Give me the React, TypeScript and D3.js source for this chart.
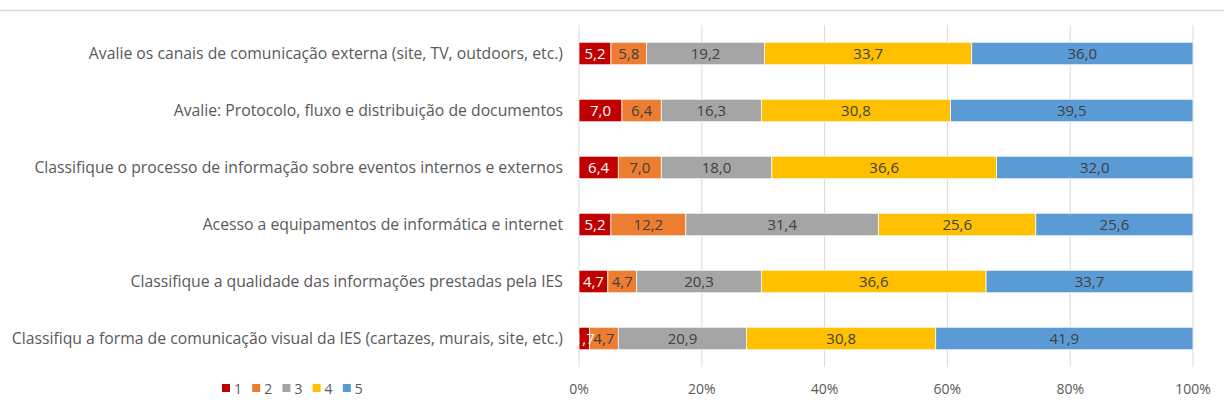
import React from "react";
import * as d3 from "d3";

const categories = [
  "Avalie os canais de comunicação externa (site, TV, outdoors, etc.)",
  "Avalie: Protocolo, fluxo e distribuição de documentos",
  "Classifique o processo de informação sobre eventos internos e externos",
  "Acesso a equipamentos de informática e internet",
  "Classifique a qualidade das informações prestadas pela IES",
  "Classifiqu a forma de comunicação visual da IES (cartazes, murais, site, etc.)",
];
const seriesNames = ["1", "2", "3", "4", "5"];
const s1 = [5.2, 7.0, 6.4, 5.2, 4.7, 1.7];
const s2 = [5.8, 6.4, 7.0, 12.2, 4.7, 4.7];
const s3 = [19.2, 16.3, 18.0, 31.4, 20.3, 20.9];
const s4 = [33.7, 30.8, 36.6, 25.6, 36.6, 30.8];
const s5 = [36.0, 39.5, 32.0, 25.6, 33.7, 41.9];
const colors = ["#C00000", "#ED7D31", "#A5A5A5", "#FFC000", "#5B9BD5"];
const ticks = [0, 0.2, 0.4, 0.6, 0.8, 1.0];

const FONT = "'Open Sans', sans-serif";

export default function App() {
  const W = 1224, H = 419;
  const x0 = 579, x1 = 1193, yTop = 25, yBot = 367;
  const series = [s1, s2, s3, s4, s5];
  const x = d3.scaleLinear().domain([0, 1]).range([x0, x1]);
  const y = d3.scaleBand<string>().domain(categories).range([yTop, yBot]).paddingInner(0.605).paddingOuter(0.3025);
  const rows = categories.map((c, i) => {
    const vals = series.map((s) => s[i]);
    const total = d3.sum(vals);
    let acc = 0;
    return vals.map((v, k) => {
      const a = acc / total;
      acc += v;
      return { c, k, v, a, b: acc / total };
    });
  });
  return (
    <svg width={W} height={H} style={{ position: "absolute", left: 0, top: 0 }}>
      <rect x={0} y={0} width={W} height={H} fill="#fff" />
      <line x1={0} x2={W} y1={10.5} y2={10.5} stroke="#d9d9d9" strokeWidth={1.5} />
      {ticks.map((t) => (
        <g key={t}>
          <line x1={x(t)} x2={x(t)} y1={yTop} y2={yBot} stroke="#d9d9d9" strokeWidth={1} />
          <text x={x(t)} y={394} textAnchor="middle" fontFamily={FONT} fontSize={14} fill="#595959">
            {d3.format(".0%")(t)}
          </text>
        </g>
      ))}
      {categories.map((c) => (
        <text key={c} x={563} y={(y(c) ?? 0) + y.bandwidth() / 2} dy="0.35em" textAnchor="end" fontFamily={FONT} fontSize={15.75} fill="#595959">
          {c}
        </text>
      ))}
      {rows.map((r) =>
        r.map((d) => (
          <rect key={d.c + d.k} x={x(d.a)} y={y(d.c)} width={x(d.b) - x(d.a)} height={y.bandwidth()} fill={colors[d.k]} stroke="#fff" strokeWidth={0.75} />
        ))
      )}
      {rows.map((r) =>
        r.map((d) => (
          <text key={"t" + d.c + d.k} x={(x(d.a) + x(d.b)) / 2} y={(y(d.c) ?? 0) + y.bandwidth() / 2} dy="0.36em" textAnchor="middle" fontFamily={FONT} fontSize={15} fill={d.k === 0 ? "#fff" : "#404040"}>
            {d3.format(".1f")(d.v).replace(".", ",")}
          </text>
        ))
      )}
      {seriesNames.map((n, i) => (
        <g key={n} transform={`translate(${222 + i * 30.2},0)`}>
          <rect x={0} y={384} width={8} height={8} fill={colors[i]} />
          <text x={12} y={394} fontFamily={FONT} fontSize={14} fill="#595959">{n}</text>
        </g>
      ))}
    </svg>
  );
}
